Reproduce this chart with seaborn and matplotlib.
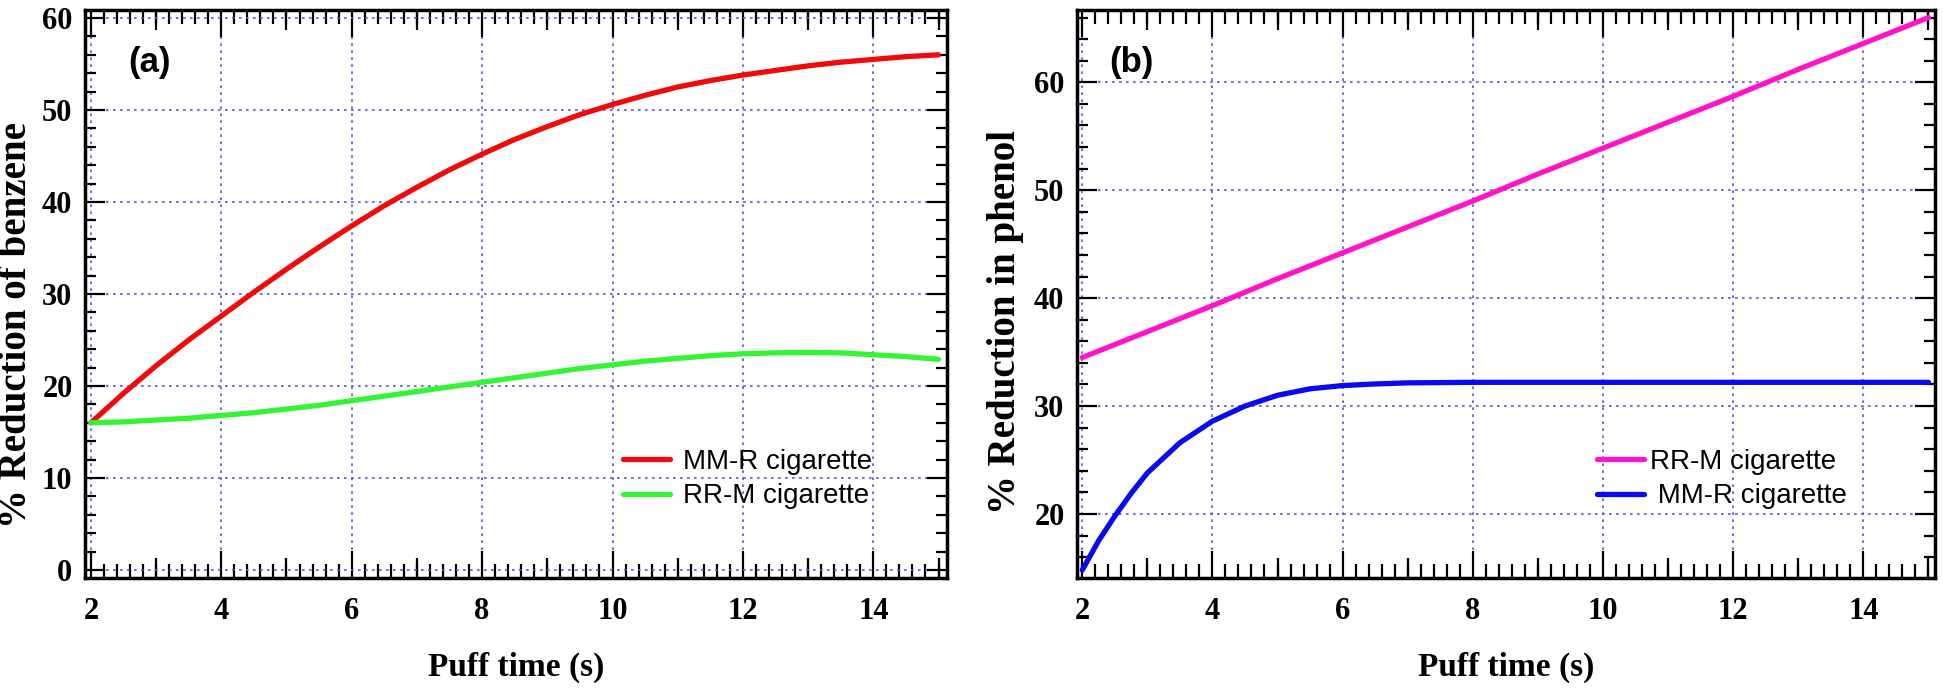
import matplotlib
matplotlib.use("Agg")
import matplotlib.pyplot as plt
import numpy as np
import pandas as pd
import seaborn as sns
from matplotlib.ticker import MultipleLocator, FixedLocator, NullLocator

# ---------------- data ----------------
puff_a = [2, 2.5, 3, 3.5, 4, 4.5, 5, 5.5, 6, 6.5, 7, 7.5, 8, 8.5, 9, 9.5,
          10, 10.5, 11, 11.5, 12, 12.5, 13, 13.5, 14, 14.5, 15]
mmr_benzene = [16.0, 19.2, 22.2, 25.0, 27.6, 30.2, 32.7, 35.1, 37.4, 39.6, 41.6,
               43.5, 45.2, 46.8, 48.2, 49.5, 50.6, 51.6, 52.5, 53.2, 53.8, 54.3,
               54.8, 55.2, 55.5, 55.8, 56.0]
rrm_benzene = [16.0, 16.1, 16.3, 16.5, 16.8, 17.1, 17.5, 17.9, 18.4, 18.9, 19.4,
               19.9, 20.4, 20.9, 21.4, 21.9, 22.3, 22.7, 23.0, 23.3, 23.5, 23.6,
               23.65, 23.6, 23.4, 23.2, 22.9]

puff_b_rrm = [2, 3, 4, 5, 6, 7, 8, 9, 10, 11, 12, 13, 14, 15]
rrm_phenol = [34.5, 36.9, 39.3, 41.8, 44.2, 46.6, 49.0, 51.5, 53.9, 56.3, 58.7,
              61.2, 63.6, 66.0]
puff_b_mmr = [2, 2.25, 2.5, 2.75, 3, 3.5, 4, 4.5, 5, 5.5, 6, 6.5, 7, 8, 9, 10,
              11, 12, 13, 14, 15]
mmr_phenol = [14.8, 17.5, 19.8, 21.9, 23.8, 26.6, 28.6, 30.0, 31.0, 31.6, 31.9,
              32.05, 32.15, 32.2, 32.2, 32.2, 32.2, 32.2, 32.2, 32.2, 32.2]

labels_a = ["MM-R cigarette", "RR-M cigarette"]
labels_b = ["RR-M cigarette", " MM-R cigarette"]
colors_a = ["#f00a0a", "#33f533"]
colors_b = ["#ff14c8", "#0a0aee"]
xticks_major = [2, 4, 6, 8, 10, 12, 14]
xticks_mid = [3, 5, 7, 9, 11, 13, 15]

# ---------------- style ----------------
sns.set_theme(style="white")
serif = ["Liberation Serif", "DejaVu Serif"]
sans = ["Liberation Sans", "DejaVu Sans"]
plt.rcParams["font.family"] = serif
plt.rcParams["text.color"] = "black"
plt.rcParams["axes.labelcolor"] = "black"
plt.rcParams["xtick.color"] = "black"
plt.rcParams["ytick.color"] = "black"

fig = plt.figure(figsize=(19.43, 6.88), dpi=100)
W, H = 1943, 688
ax_a = fig.add_axes([85 / W, 1 - 578 / H, (947 - 85) / W, (578 - 10) / H])
ax_b = fig.add_axes([1077 / W, 1 - 578 / H, (1935 - 1077) / W, (578 - 10) / H])

df_a = pd.DataFrame({
    "Puff time": puff_a * 2,
    "value": mmr_benzene + rrm_benzene,
    "series": [labels_a[0]] * len(puff_a) + [labels_a[1]] * len(puff_a),
})
df_b = pd.DataFrame({
    "Puff time": puff_b_rrm + puff_b_mmr,
    "value": rrm_phenol + mmr_phenol,
    "series": [labels_b[0]] * len(puff_b_rrm) + [labels_b[1]] * len(puff_b_mmr),
})

LW = 3.8
sns.lineplot(data=df_a, x="Puff time", y="value", hue="series", hue_order=labels_a,
             palette=colors_a, linewidth=LW, estimator=None, ax=ax_a, zorder=5)
sns.lineplot(data=df_b, x="Puff time", y="value", hue="series", hue_order=labels_b,
             palette=colors_b, linewidth=LW, estimator=None, ax=ax_b, zorder=5)

px = 72 / 100  # points per pixel


def style_axis(ax, xlim, ylim, ylabel, letter, legend_labels, handletextpad, lx):
    ax.set_xlim(*xlim)
    ax.set_ylim(*ylim)
    for s in ax.spines.values():
        s.set_visible(True)
        s.set_color("black")
        s.set_linewidth(2.5)
        s.set_zorder(6)
    ax.xaxis.set_major_locator(FixedLocator(xticks_major))
    ax.xaxis.set_minor_locator(MultipleLocator(0.2))
    ax.yaxis.set_major_locator(MultipleLocator(10))
    ax.yaxis.set_minor_locator(MultipleLocator(2))
    ax.tick_params(axis="x", which="major", direction="in", length=27 * px, width=1.6,
                   top=True, bottom=True, labelsize=22, pad=14, colors="black")
    ax.tick_params(axis="x", which="minor", direction="in", length=14 * px, width=1.6,
                   top=True, bottom=True, colors="black")
    ax.tick_params(axis="y", which="major", direction="in", length=20 * px, width=1.6,
                   left=True, right=True, labelsize=22, pad=9, colors="black")
    ax.tick_params(axis="y", which="minor", direction="in", length=11 * px, width=1.6,
                   left=True, right=True, colors="black")
    for lab in ax.get_xticklabels() + ax.get_yticklabels():
        lab.set_fontweight("bold")
        lab.set_family(serif)
    # medium ticks at odd integers
    for loc in ("bottom", "top"):
        sec = ax.secondary_xaxis(loc)
        sec.xaxis.set_major_locator(FixedLocator(xticks_mid))
        sec.xaxis.set_minor_locator(NullLocator())
        sec.tick_params(axis="x", which="major", direction="in", length=20 * px,
                        width=1.6, labelbottom=False, labeltop=False, colors="black")
        for s in sec.spines.values():
            s.set_visible(False)

    ax.grid(True, which="major", color="#5a5ad0", linewidth=1.2,
            linestyle=(0, (1.6, 2.6)))
    ax.set_axisbelow(True)

    ax.set_xlabel("Puff time (s)", fontsize=24, fontweight="bold", family=serif,
                  color="black")
    ax.set_ylabel(ylabel, fontsize=28, fontweight="bold", family=serif, color="black")
    ax.xaxis.label.set_va("center")
    ax.yaxis.label.set_va("center")
    ax.xaxis.set_label_coords(0.5, -0.158)

    ax.text(lx, 0.907, letter, transform=ax.transAxes, fontsize=25,
            fontweight="bold", family=sans, ha="center", va="center", color="black")

    handles, labs = ax.get_legend_handles_labels()
    leg = ax.legend(handles, legend_labels, loc="center left", frameon=False,
                    prop={"family": sans, "size": 20}, handlelength=1.7,
                    handletextpad=handletextpad, labelspacing=0.3, borderpad=0,
                    borderaxespad=0, labelcolor="black")
    for h in leg.get_lines():
        h.set_linewidth(LW)
    return leg


leg_a = style_axis(ax_a, (1.91, 15.13), (-0.87, 60.87), "% Reduction of benzene",
                   "(a)", labels_a, 0.45, 0.075)
leg_a.set_bbox_to_anchor((0.624, 0.174), transform=ax_a.transAxes)
ax_a.yaxis.set_label_coords(-0.079, 0.445)

leg_b = style_axis(ax_b, (1.92, 15.1), (14.07, 66.7), "% Reduction in phenol",
                   "(b)", labels_b, 0.2, 0.063)
leg_b.set_bbox_to_anchor((0.606, 0.174), transform=ax_b.transAxes)
ax_b.yaxis.set_label_coords(-0.083, 0.451)

fig.savefig("out.png", dpi=100, facecolor="white")
